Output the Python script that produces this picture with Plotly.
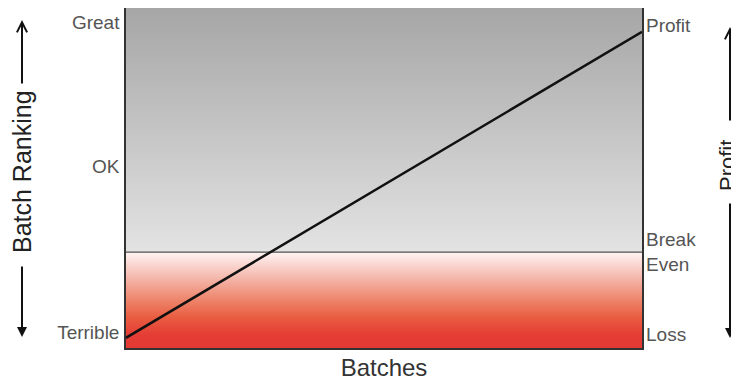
import numpy as np
import plotly.graph_objects as go

# ---- data ----
batches = [0.0, 1.0]                 # first and last batch (x extent)
profit_line = [0.03, 0.93]           # line value at first / last batch
break_even = 0.282                   # level of break-even line

rank_vals = [0.047, 0.535, 0.959]
rank_text = ["Terrible", "OK", "Great"]
profit_vals = [0.040, 0.282, 0.950]
profit_text = ["Loss", "Break<br>Even", "Profit"]

# background gradient rows
grad_y = np.linspace(0, 1, 341)
grad_z = [[v, v] for v in grad_y]

# page offset (browser body margin)
OFF = 8
W, H = 739 - OFF, 381 - OFF
# plot box in reference pixel coords
X0, X1, Y0, Y1 = 126, 642, 8, 348
L, R, T, B = X0 - OFF, W - (X1 - OFF), Y0 - OFF, H - (Y1 - OFF)
PW, PH = X1 - X0, Y1 - Y0

def px_x(px):
    return (px - X0) / PW

def px_y(py):
    return (Y1 - py) / PH

bp = break_even
colorscale = [
    [0.0, "#e43834"],
    [0.04, "#e53d35"],
    [0.09, "#e95c40"],
    [0.15, "#ee8a72"],
    [0.21, "#f5b9ae"],
    [bp - 0.002, "#fdf1f0"],
    [bp + 0.001, "#e3e3e3"],
    [1.0, "#a6a6a6"],
]

fig = go.Figure()
fig.add_trace(go.Heatmap(
    x=batches, y=grad_y, z=grad_z, zmin=0, zmax=1,
    colorscale=colorscale, showscale=False, hoverinfo="skip",
))
fig.add_trace(go.Scatter(
    x=batches, y=[break_even, break_even], mode="lines",
    line=dict(color="#555555", width=1.2), hoverinfo="skip", showlegend=False,
))
fig.add_trace(go.Scatter(
    x=batches, y=profit_line, mode="lines",
    line=dict(color="#111111", width=2.5), hoverinfo="skip", showlegend=False,
))
fig.add_trace(go.Scatter(
    x=batches, y=profit_line, yaxis="y2", mode="lines",
    line=dict(width=0), opacity=0, hoverinfo="skip", showlegend=False,
))

label_font = dict(family="Liberation Sans, Arial, sans-serif", size=19, color="#555555")

fig.update_layout(
    width=W, height=H,
    margin=dict(l=L, r=R, t=T, b=B, autoexpand=False),
    paper_bgcolor="white", plot_bgcolor="white",
    showlegend=False,
    xaxis=dict(range=[0, 1], showticklabels=False, showgrid=False, zeroline=False,
               ticks="", showline=True, mirror=True, linecolor="#333333", linewidth=1.5,
               title=dict(text="Batches", standoff=12,
                          font=dict(family="Liberation Sans, Arial, sans-serif", size=24, color="#333333")),
               automargin=False),
    yaxis=dict(range=[0, 1], tickvals=rank_vals, ticktext=rank_text, tickfont=label_font,
               showgrid=False, zeroline=False, ticks="", ticklabelstandoff=1,
               showline=True, mirror=True, linecolor="#333333", linewidth=1.5, automargin=False),
    yaxis2=dict(range=[0, 1], tickvals=profit_vals, ticktext=profit_text, tickfont=label_font,
                overlaying="y", side="right", anchor="x", showgrid=False, zeroline=False,
                ticks="", ticklabelstandoff=3, automargin=False),
)

arrow = dict(xref="paper", yref="paper", text="", showarrow=True, arrowcolor="#111111",
             arrowwidth=2, arrowsize=1, standoff=0, axref="pixel", ayref="pixel")
fig.add_annotation(x=px_x(22), y=px_y(20), ax=0, ay=65, arrowhead=5, **arrow)
fig.add_annotation(x=px_x(22), y=px_y(337), ax=0, ay=-72, arrowhead=2, **arrow)
fig.add_annotation(x=px_x(730), y=px_y(27), ax=0, ay=95, arrowhead=5, **arrow)
fig.add_annotation(x=px_x(730), y=px_y(338), ax=0, ay=-136, arrowhead=2, **arrow)

title_font = dict(family="Liberation Sans, Arial, sans-serif", size=25, color="#222222")
fig.add_annotation(x=px_x(22), y=px_y(172), xref="paper", yref="paper", text="Batch Ranking",
                   textangle=-90, showarrow=False, font=title_font,
                   xanchor="center", yanchor="middle")
fig.add_annotation(x=px_x(727), y=px_y(166), xref="paper", yref="paper", text="Profit",
                   textangle=-90, showarrow=False, font=dict(title_font, size=22),
                   xanchor="center", yanchor="middle")

fig.write_html("out.html")
